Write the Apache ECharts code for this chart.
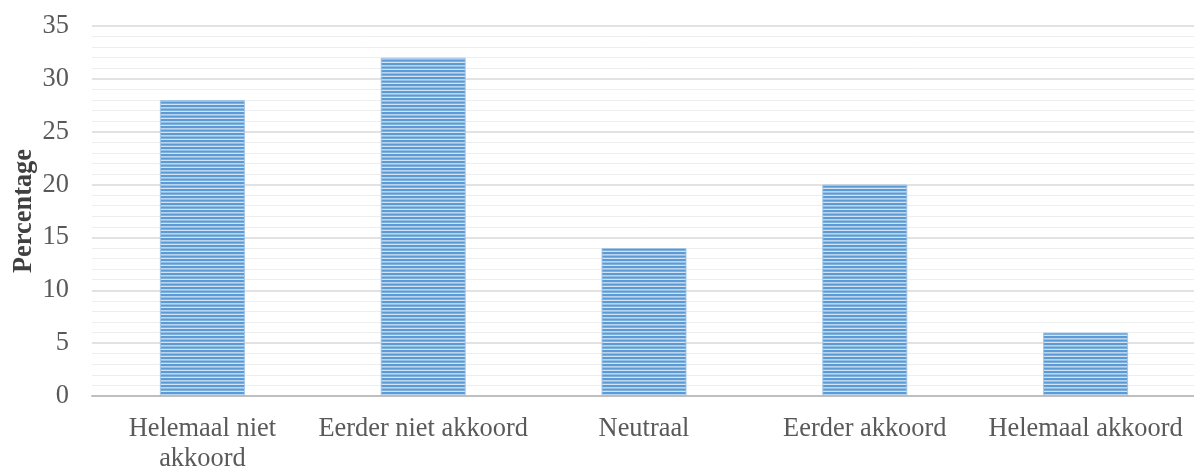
<!DOCTYPE html>
<html>
<head>
<meta charset="utf-8">
<script src="https://cdn.jsdelivr.net/npm/echarts@6/dist/echarts.min.js"></script>
<style>
  html, body { margin: 0; padding: 0; background: #ffffff; }
  #chart { width: 1194px; height: 467px; }
</style>
</head>
<body>
<div id="chart"></div>
<script>
// Survey answers and their share (%)
const categories = ['Helemaal niet\nakkoord', 'Eerder niet akkoord', 'Neutraal', 'Eerder akkoord', 'Helemaal akkoord'];
const percentages = [28, 32, 14, 20, 6];
const yTicks = { min: 0, max: 35, interval: 5 };
const yAxisTitle = 'Percentage';

// Horizontal-stripe fill for the bars
function stripePattern() {
  const c = document.createElement('canvas');
  c.width = 8;
  c.height = 7;
  const ctx = c.getContext('2d');
  ctx.fillStyle = '#d3e3f4';
  ctx.fillRect(0, 0, 8, 7);
  ctx.fillStyle = '#5b9bd5';
  ctx.fillRect(0, 0, 8, 2.2);
  ctx.fillRect(0, 3.5, 8, 2.2);
  return c;
}

const font = "'Liberation Serif', 'Times New Roman', serif";
const chart = echarts.init(document.getElementById('chart'), null, { renderer: 'canvas' });

chart.setOption({
  animation: false,
  backgroundColor: '#ffffff',
  grid: { left: 92, top: 26, width: 1104, bottom: 71, outerBoundsMode: 'none', containLabel: false },
  xAxis: {
    type: 'category',
    data: categories,
    axisTick: { show: false },
    axisLine: { lineStyle: { color: '#bfbfbf', width: 2 } },
    axisLabel: {
      color: '#595959',
      fontFamily: font,
      fontSize: 26.4,
      lineHeight: 30,
      margin: 18,
      interval: 0
    }
  },
  yAxis: {
    type: 'value',
    min: yTicks.min,
    max: yTicks.max,
    interval: yTicks.interval,
    name: yAxisTitle,
    nameLocation: 'middle',
    nameRotate: 90,
    nameGap: 55,
    nameMoveOverlap: false,
    nameTextStyle: { color: '#404040', fontFamily: font, fontSize: 26.4, fontWeight: 'bold' },
    axisLine: { show: false },
    axisTick: { show: false },
    axisLabel: { color: '#595959', fontFamily: font, fontSize: 26.4, margin: 23 },
    splitLine: { lineStyle: { color: '#d9d9d9', width: 1.5 } },
    minorTick: { show: false, splitNumber: 5 },
    minorSplitLine: { show: true, lineStyle: { color: '#eeeeee', width: 1 } }
  },
  series: [{
    type: 'bar',
    data: percentages,
    barWidth: 85,
    itemStyle: {
      color: { image: stripePattern(), repeat: 'repeat' },
      borderColor: 'rgba(155, 194, 230, 0.9)',
      borderWidth: 1
    }
  }]
});
</script>
</body>
</html>
